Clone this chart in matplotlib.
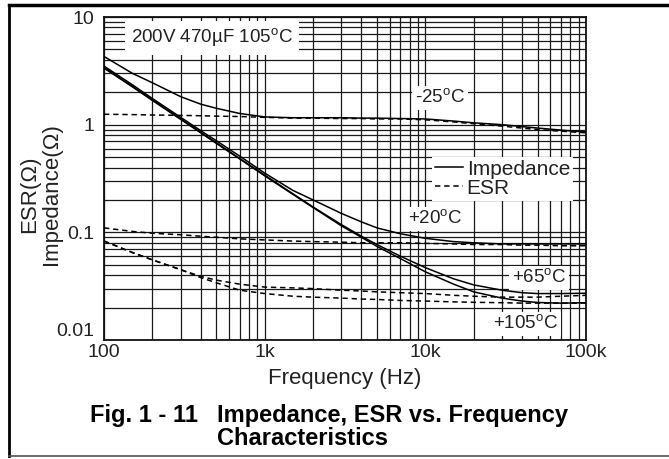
import matplotlib
matplotlib.use("Agg")
import matplotlib.pyplot as plt
from matplotlib.lines import Line2D
from matplotlib.ticker import FixedLocator, LogLocator, NullFormatter
import matplotlib.transforms as mtransforms

plt.rcParams["font.family"] = ["Liberation Sans", "DejaVu Sans"]
plt.rcParams["mathtext.fontset"] = "custom"
plt.rcParams["mathtext.rm"] = "Liberation Sans"

# frequency points (Hz)
freq = [100, 150, 200, 300, 400, 500, 700, 1000, 1500, 2000, 3000, 4000,
        5000, 7000, 10000, 15000, 20000, 30000, 40000, 50000, 70000, 100000]

# impedance (ohm) per temperature
z_m25 = [4.3, 3.0, 2.45, 1.82, 1.55, 1.42, 1.27, 1.18, 1.16, 1.16, 1.16, 1.15,
         1.15, 1.14, 1.13, 1.08, 1.04, 1.0, 0.96, 0.93, 0.89, 0.855]
z_20 = [3.5, 2.35, 1.75, 1.17, 0.88, 0.71, 0.51, 0.355, 0.245, 0.2, 0.15, 0.125,
        0.11, 0.097, 0.088, 0.082, 0.08, 0.078, 0.078, 0.078, 0.078, 0.078]
z_65 = [3.4, 2.27, 1.7, 1.13, 0.85, 0.68, 0.485, 0.34, 0.228, 0.172, 0.118, 0.092,
        0.077, 0.06, 0.047, 0.037, 0.0325, 0.029, 0.0275, 0.027, 0.027, 0.0272]
z_105 = [3.35, 2.25, 1.68, 1.12, 0.84, 0.67, 0.48, 0.335, 0.225, 0.17, 0.115, 0.09,
         0.074, 0.057, 0.043, 0.033, 0.028, 0.0245, 0.023, 0.0223, 0.022, 0.0222]

# ESR (ohm) per temperature
esr_m25 = [1.25, 1.24, 1.23, 1.22, 1.21, 1.2, 1.19, 1.17, 1.15, 1.15, 1.14, 1.14,
           1.13, 1.13, 1.11, 1.06, 1.02, 0.97, 0.93, 0.9, 0.87, 0.84]
esr_20 = [0.11, 0.102, 0.098, 0.095, 0.092, 0.09, 0.087, 0.085, 0.083, 0.082, 0.081,
          0.08, 0.08, 0.08, 0.079, 0.078, 0.077, 0.077, 0.076, 0.076, 0.075, 0.075]
esr_65 = [0.083, 0.065, 0.0555, 0.045, 0.039, 0.036, 0.033, 0.031, 0.0305, 0.03,
          0.029, 0.0285, 0.028, 0.0275, 0.027, 0.026, 0.0255, 0.025, 0.025, 0.025,
          0.0255, 0.026]
esr_105 = [0.083, 0.065, 0.0555, 0.045, 0.038, 0.034, 0.029, 0.027, 0.0255, 0.025,
           0.0245, 0.024, 0.0238, 0.0233, 0.023, 0.0226, 0.0224, 0.0222, 0.022,
           0.022, 0.022, 0.022]

x_ticks = [100, 1000, 10000, 100000]
x_labels = ["100", "1k", "10k", "100k"]
y_ticks = [0.01, 0.1, 1, 10]
y_labels = ["0.01", "0.1", "1", "10"]

ink = "#222222"
deg = r"$^{\rm o}$C"

fig = plt.figure(figsize=(6.69, 4.59), dpi=100)
ax = fig.add_axes([104 / 669, 119 / 459, 482 / 669, 323 / 459])
ax.set_xscale("log")
ax.set_yscale("log")
ax.set_xlim(100, 100000)
ax.set_ylim(0.01, 10)

# log grid, major and minor drawn the same
ax.xaxis.set_major_locator(FixedLocator(x_ticks))
ax.yaxis.set_major_locator(FixedLocator(y_ticks))
ax.xaxis.set_minor_locator(LogLocator(base=10, subs=range(2, 10)))
ax.yaxis.set_minor_locator(LogLocator(base=10, subs=range(2, 10)))
ax.xaxis.set_minor_formatter(NullFormatter())
ax.yaxis.set_minor_formatter(NullFormatter())
ax.grid(True, which="both", color="#1a1a1a", lw=0.9, zorder=1)
ax.set_axisbelow(True)

ax.set_xticklabels(x_labels)
ax.set_yticklabels(y_labels)
ax.tick_params(which="both", length=0, labelsize=14, labelcolor=ink)
ax.tick_params(axis="x", pad=3)
ax.tick_params(axis="y", pad=7)
# lift the bottom y label off the x labels
lbl = ax.get_yticklabels()[0]
lbl.set_transform(lbl.get_transform() + mtransforms.ScaledTranslation(0, 10 / 100, fig.dpi_scale_trans))

for s in ax.spines.values():
    s.set_linewidth(1.3)
    s.set_color("#111111")

# curves
for z in (z_m25, z_20, z_65, z_105):
    ax.plot(freq, z, color="black", lw=1.1, zorder=4)
for e in (esr_m25, esr_20, esr_65, esr_105):
    ax.plot(freq, e, color="black", lw=1.1, ls=(0, (3.5, 2.5)), zorder=4)

box = dict(facecolor="white", edgecolor="none", pad=2)
ax.text(470, 6.4, "200V 470\u00b5F 105" + deg, fontsize=13.5, color=ink,
        ha="center", va="center", bbox=dict(facecolor="white", edgecolor="none", pad=4), zorder=3)
ax.text(12300, 1.77, "-25" + deg, fontsize=13.5, color=ink, ha="center", va="center", bbox=box, zorder=3)
ax.text(11500, 0.133, "+20" + deg, fontsize=13.5, color=ink, ha="center", va="center", bbox=box, zorder=3)
ax.text(50900, 0.0378, "+65" + deg, fontsize=13.5, color=ink, ha="center", va="center", bbox=box, zorder=3)
ax.text(42300, 0.0141, "+105" + deg, fontsize=13.5, color=ink, ha="center", va="center", bbox=box, zorder=3)

handles = [Line2D([], [], color="black", lw=1.1),
           Line2D([], [], color="black", lw=1.1, ls=(0, (3.5, 2.5)))]
leg = ax.legend(handles, ["Impedance", "ESR"], loc="upper right",
                bbox_to_anchor=(0.995, 0.6), fontsize=15, handlelength=1.3,
                handletextpad=0.2, labelspacing=0.0, borderpad=0.15,
                frameon=True, fancybox=False, framealpha=1, edgecolor="none")
for t in leg.get_texts():
    t.set_color(ink)

ax.set_xlabel("Frequency (Hz)", fontsize=16, color=ink, labelpad=5)
ax.set_ylabel("ESR(\u03a9)\nImpedance(\u03a9)", fontsize=16, color=ink, linespacing=1.05)
ax.yaxis.set_label_coords(-0.087, 0.452)

# caption
fig.text(90 / 669, 1 - 404 / 459, "Fig. 1 - 11", fontsize=17, fontweight="bold",
         color="black", ha="left", va="top")
fig.text(217 / 669, 1 - 404 / 459, "Impedance, ESR vs. Frequency\nCharacteristics",
         fontsize=17, fontweight="bold", color="black", ha="left", va="top", linespacing=1.0)

# page frame
fig.add_artist(Line2D([9 / 669, 9 / 669], [3 / 459, 454 / 459], transform=fig.transFigure, color="black", lw=2))
fig.add_artist(Line2D([9 / 669, 1], [454 / 459, 454 / 459], transform=fig.transFigure, color="black", lw=2.5))
fig.add_artist(Line2D([9 / 669, 1], [3 / 459, 3 / 459], transform=fig.transFigure, color="#555555", lw=1.2))

fig.savefig("out.png", dpi=100)
